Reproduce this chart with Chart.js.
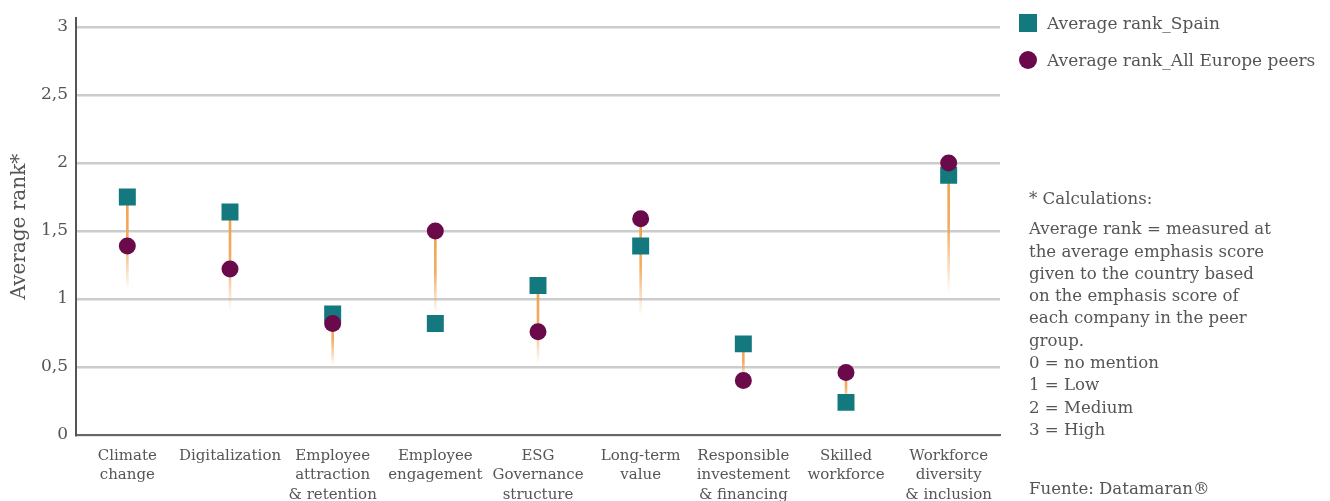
<!DOCTYPE html>
<html>
<head>
<meta charset="utf-8">
<script src="https://cdn.jsdelivr.net/npm/chart.js@4"></script>
<style>
  body { margin: 0; background: #fff; }
  #wrap { position: relative; width: 1330px; height: 501px; font-family: 'DejaVu Serif', serif; color: #555; }
  #chart { position: absolute; left: 0; top: 0; }
  .leg { position: absolute; left: 1019px; font-size: 17px; display: flex; align-items: center; }
  .leg i { display: inline-block; width: 18px; height: 18px; margin-right: 10px; }
  #notes { position: absolute; left: 1029px; top: 188px; font-size: 16.6px; line-height: 22.3px; width: 300px; }
  #src { position: absolute; left: 1029px; top: 479px; font-size: 16.6px; }
</style>
</head>
<body>
<div id="wrap">
  <canvas id="chart" width="1330" height="501"></canvas>
  <div class="leg" style="top:13px"><i style="background:#13797f"></i>Average rank_Spain</div>
  <div class="leg" style="top:50px"><i style="background:#6a0a4b;border-radius:50%"></i>Average rank_All Europe peers</div>
  <div id="notes">
    <div style="margin-bottom:8px">* Calculations:</div>
    Average rank = measured at<br>the average emphasis score<br>given to the country based<br>on the emphasis score of<br>each company in the peer<br>group.<br>0 = no mention<br>1 = Low<br>2 = Medium<br>3 = High
  </div>
  <div id="src">Fuente: Datamaran®</div>
</div>
<script>
const categories = [
  ['Climate', 'change'],
  'Digitalization',
  ['Employee', 'attraction', '& retention'],
  ['Employee', 'engagement'],
  ['ESG', 'Governance', 'structure'],
  ['Long-term', 'value'],
  ['Responsible', 'investement', '& financing'],
  ['Skilled', 'workforce'],
  ['Workforce', 'diversity', '& inclusion']
];
const spain = [1.75, 1.64, 0.89, 0.82, 1.10, 1.39, 0.67, 0.24, 1.91];
const europe = [1.39, 1.22, 0.82, 1.50, 0.76, 1.59, 0.40, 0.46, 2.00];
// where the orange connector fades out
const lineEnd = [1.07, 0.91, 0.51, 0.89, 0.53, 0.88, 0.40, 0.24, 1.04];
const yTicks = [0, 0.5, 1, 1.5, 2, 2.5, 3];

const lineTop = spain.map((v, i) => Math.max(v, europe[i]));
const connectors = lineTop.map((t, i) => [lineEnd[i], t]);

const ORANGE = '240,160,75';
const GREY = '#555';

function connectorColor(ctx) {
  const chart = ctx.chart;
  const y = chart.scales.y;
  if (!chart.chartArea || !y) return 'rgb(' + ORANGE + ')';
  const i = ctx.dataIndex;
  const top = y.getPixelForValue(lineTop[i]);
  const bot = y.getPixelForValue(lineEnd[i]);
  if (bot - top < 1) return 'rgb(' + ORANGE + ')';
  const g = chart.ctx.createLinearGradient(0, top, 0, bot);
  g.addColorStop(0, 'rgba(' + ORANGE + ',1)');
  g.addColorStop(0.5, 'rgba(' + ORANGE + ',0.85)');
  g.addColorStop(1, 'rgba(' + ORANGE + ',0)');
  return g;
}

new Chart(document.getElementById('chart'), {
  data: {
    labels: categories,
    datasets: [
      {
        type: 'bar', label: 'connector', data: connectors, order: 3,
        backgroundColor: connectorColor, barThickness: 2, borderWidth: 0
      },
      {
        type: 'line', label: 'Average rank_Spain', data: spain, order: 2, showLine: false,
        pointStyle: 'rect', pointRadius: 12, pointHoverRadius: 12,
        backgroundColor: '#13797f', borderColor: '#13797f', borderWidth: 0
      },
      {
        type: 'line', label: 'Average rank_All Europe peers', data: europe, order: 1, showLine: false,
        pointStyle: 'circle', pointRadius: 8.5, pointHoverRadius: 8.5,
        backgroundColor: '#6a0a4b', borderColor: '#6a0a4b', borderWidth: 0
      }
    ]
  },
  options: {
    responsive: false,
    animation: false,
    layout: { padding: { left: 0, right: 330, top: 15, bottom: 0 } },
    plugins: { legend: { display: false }, tooltip: { enabled: false } },
    scales: {
      x: {
        offset: true,
        afterFit: s => { s.height = 66; },
        grid: { display: false },
        border: { color: '#666', width: 2 },
        ticks: { color: GREY, font: { family: 'DejaVu Serif', size: 15, lineHeight: 1.27 }, maxRotation: 0, autoSkip: false, padding: 4 }
      },
      y: {
        min: 0, max: 3.065,
        afterBuildTicks: s => { s.ticks = yTicks.map(v => ({ value: v })); },
        afterFit: s => { s.width = 76; },
        grid: { color: '#cccccc', lineWidth: 2.5, drawTicks: false },
        border: { color: '#555', width: 2 },
        title: { display: true, text: 'Average rank*', color: GREY, font: { family: 'DejaVu Serif', size: 20 }, padding: { top: 8, bottom: 0 } },
        ticks: {
          color: GREY, padding: 8, font: { family: 'DejaVu Serif', size: 17 },
          callback: v => String(v).replace('.', ',')
        }
      }
    }
  }
});
</script>
</body>
</html>
